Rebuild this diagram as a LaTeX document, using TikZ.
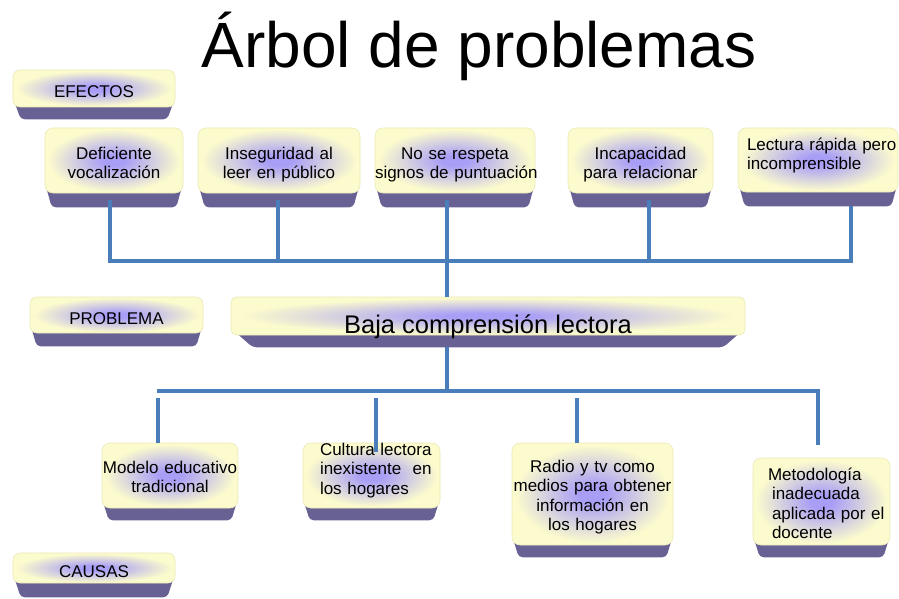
\documentclass[tikz,border=0pt]{standalone}
\usepackage{fontspec}
\setmainfont{Liberation Sans}
\pgfdeclarelayer{background}
\pgfsetlayers{background,main}
\definecolor{boxy}{RGB}{252,251,205}
\definecolor{glowc}{RGB}{168,158,246}
\definecolor{bandc}{RGB}{104,97,148}
\definecolor{boxedge}{RGB}{236,233,185}
\definecolor{linec}{RGB}{74,126,187}
\pgfdeclareradialshading{glow}{\pgfpoint{0bp}{0bp}}{color(0bp)=(glowc); color(4bp)=(glowc); color(24bp)=(boxy); color(50bp)=(boxy)}
\newcommand\boxband[3]{%
  \begin{pgfonlayer}{background}
  \fill[bandc,rounded corners=4pt] ([xshift=1.5pt,yshift=6pt]#1.south west) -- ([xshift=-1.5pt,yshift=6pt]#1.south east) -- ([xshift=-#3,yshift=-#2]#1.south east) -- ([xshift=#3,yshift=-#2]#1.south west) -- cycle;
  \end{pgfonlayer}}
\tikzset{
  pbox/.style={shade, shading=glow, draw=boxedge, line width=0.6pt, rounded corners=8pt, inner sep=0pt, font=\fontsize{17}{19.5}\selectfont, align=center},
  lab/.style={shade, shading=glow, draw=boxedge, line width=0.6pt, rounded corners=7pt, inner sep=0pt, font=\fontsize{17}{19.5}\selectfont, text height=17.5pt, text depth=0pt},
  conn/.style={draw=linec, line width=4pt},
}
\begin{document}
\begin{tikzpicture}[x=1pt,y=-1pt]
\useasboundingbox (0,0) rectangle (899,599);
\begin{pgfonlayer}{background}
\fill[white] (0,0) rectangle (899,599);
\end{pgfonlayer}

\node[anchor=base, font=\fontsize{64}{70}\selectfont] (title) at (479,68) {Árbol de problemas};

% labels
\node[lab, minimum width=162pt, minimum height=37pt] (efe) at (94,88.5) {EFECTOS};
\boxband{efe}{12pt}{8pt}
\node[lab, minimum width=173pt, minimum height=36pt, text height=19pt] (pro) at (116.5,315) {PROBLEMA};
\boxband{pro}{13pt}{7pt}
\node[lab, minimum width=162pt, minimum height=30pt, text height=19pt] (cau) at (94,568) {CAUSAS};
\boxband{cau}{14pt}{8pt}

% effects
\tikzset{toprow/.style={pbox, minimum height=65pt, text height=12pt, text depth=15pt}}
\node[toprow, minimum width=138pt, text width=138pt] (d1) at (114,160.5) {Deficiente\\vocalización};
\node[toprow, minimum width=162pt, text width=162pt] (d2) at (279,160.5) {Inseguridad al\\leer en público};
\node[toprow, minimum width=160pt, text width=160pt] (d3) at (455,160.5) {No se respeta\\\mbox{signos de puntuación}};
\node[toprow, minimum width=145pt, text width=145pt] (d4) at (640.5,160.5) {Incapacidad\\para relacionar};
\node[pbox, minimum width=160pt, minimum height=64pt, text width=142pt, align=left, text height=12pt, text depth=32pt] (d5) at (818,160) {\mbox{Lectura rápida pero}\\incomprensible};
\foreach \n in {d1,d2,d3,d4,d5} {\boxband{\n}{14pt}{7pt}}

% problem
\node[pbox, rounded corners=6pt, minimum width=514pt, minimum height=38pt, font=\fontsize{25.5}{30}\selectfont, text height=34pt, text depth=0pt] (baja) at (488,316) {Baja comprensión lectora};
\boxband{baja}{12pt}{22pt}

% causes
\node[pbox, minimum width=136pt, minimum height=65pt, text width=136pt, text height=12pt, text depth=17pt] (c1) at (170,475.5) {Modelo educativo\\tradicional};
\node[pbox, minimum width=137pt, minimum height=65pt, text width=103pt, align=left, text height=12pt, text depth=53pt] (c2) at (371.5,475.5) {\mbox{Cultura lectora}\\\mbox{inexistente\ \ en}\\los hogares};
\node[pbox, minimum width=161pt, minimum height=102pt, text width=161pt, text height=12pt, text depth=56pt] (c3) at (592.5,494) {Radio y tv como\\\mbox{medios para obtener}\\información en\\los hogares};
\node[pbox, minimum width=137pt, minimum height=87pt, text width=99pt, align=left, text height=12pt, text depth=55pt] (c4) at (821.5,501.5) {\hspace*{-4pt}Metodología\\inadecuada\\\mbox{aplicada por el}\\docente};
\foreach \n in {c1,c2,c3,c4} {\boxband{\n}{12pt}{7pt}}

% connectors (effects)
\coordinate (hl) at (108,261);
\coordinate (hr) at (853,261);
\coordinate (t1) at (110,200);
\coordinate (t2) at (278,200);
\coordinate (t3) at (447,200);
\coordinate (t4) at (649,200);
\coordinate (t5) at (851,206);
\draw[conn] (hl) -- (hr);
\foreach \t in {t1,t2,t4,t5} {\draw[conn] (\t) -- (\t |- hl);}
\draw[conn] (t3) -- (t3 |- baja.north);

% connectors (causes)
\coordinate (m0) at (447,347);
\coordinate (bl) at (157,391);
\coordinate (br) at (818,391);
\coordinate (b1) at (158,398);
\coordinate (b2) at (376,398);
\coordinate (b3) at (577,398);
\coordinate (b4end) at (818,445);
\draw[conn] (m0) -- (m0 |- bl);
\draw[conn] (bl) -- (br) -- (b4end);
\draw[conn] (b1) -- (b1 |- c1.north);
\draw[conn] (b2) -- ++(0,54);
\draw[conn] (b3) -- (b3 |- c3.north);
\end{tikzpicture}
\end{document}
